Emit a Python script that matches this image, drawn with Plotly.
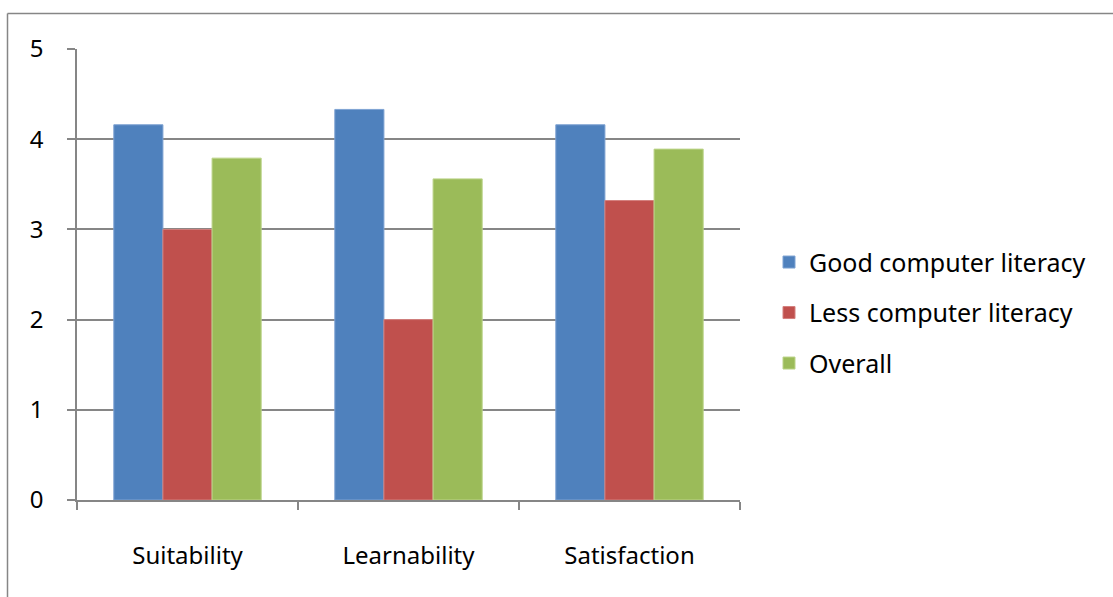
import plotly.graph_objects as go

categories = ["Suitability", "Learnability", "Satisfaction"]
good = [4.16, 4.33, 4.16]
less = [3.0, 2.0, 3.32]
overall = [3.79, 3.56, 3.89]
series_names = ["Good computer literacy", "Less computer literacy", "Overall"]
colors = ["#4F81BD", "#C0504D", "#9BBB59"]
edge = ["#7FA3D3", "#D4807E", "#BCD48A"]
yticks = [0, 1, 2, 3, 4, 5]

FONT = "Noto Sans"
W, H = 1113, 597
L, R, T, B = 77, 740, 48.5, 500

fig = go.Figure()
for i, (name, vals) in enumerate(zip(series_names, [good, less, overall])):
    fig.add_trace(go.Bar(
        x=categories, y=vals, name=name,
        marker=dict(color=colors[i], line=dict(color=edge[i], width=1)),
        legendgroup=f"g{i}",
    ))

pw = R - L
ph = B - T
def px2x(p):
    return (p - L) / pw
def py2y(p):
    return (B - p) / ph

fig.update_layout(
    width=W, height=H,
    margin=dict(l=L, r=W - R, t=T, b=H - B, pad=0),
    paper_bgcolor="white", plot_bgcolor="white",
    barmode="group", bargap=0.333, bargroupgap=0,
    font=dict(family=FONT, size=24, color="black"),
    showlegend=True,
    legend=dict(x=px2x(769), y=py2y(239), xanchor="left", yanchor="top",
                font=dict(family=FONT, size=25, color="black"),
                tracegroupgap=15, bgcolor="rgba(0,0,0,0)"),
    xaxis=dict(
        showgrid=False, showline=True, linecolor="#868686", linewidth=1.5,
        ticks="outside", tickson="boundaries", ticklen=8, tickcolor="#868686",
        tickwidth=1.5, ticklabelstandoff=33,
        tickfont=dict(family=FONT, size=24, color="black"),
    ),
    yaxis=dict(
        range=[0, 5], tickvals=yticks, showgrid=True, gridcolor="#868686",
        gridwidth=1.5, showline=True, linecolor="#868686", linewidth=1.5,
        ticks="outside", ticklen=8, tickcolor="#868686", tickwidth=1.5,
        ticklabelstandoff=19, zeroline=False,
        tickfont=dict(family=FONT, size=24, color="black"),
    ),
    shapes=[
        dict(type="line", xref="paper", yref="paper",
             x0=px2x(7.5), x1=px2x(1120), y0=py2y(13), y1=py2y(13),
             line=dict(color="#868686", width=1.5)),
        dict(type="line", xref="paper", yref="paper",
             x0=px2x(7.5), x1=px2x(7.5), y0=py2y(13), y1=py2y(610),
             line=dict(color="#868686", width=1.5)),
    ],
)

fig.write_html("out.html")
